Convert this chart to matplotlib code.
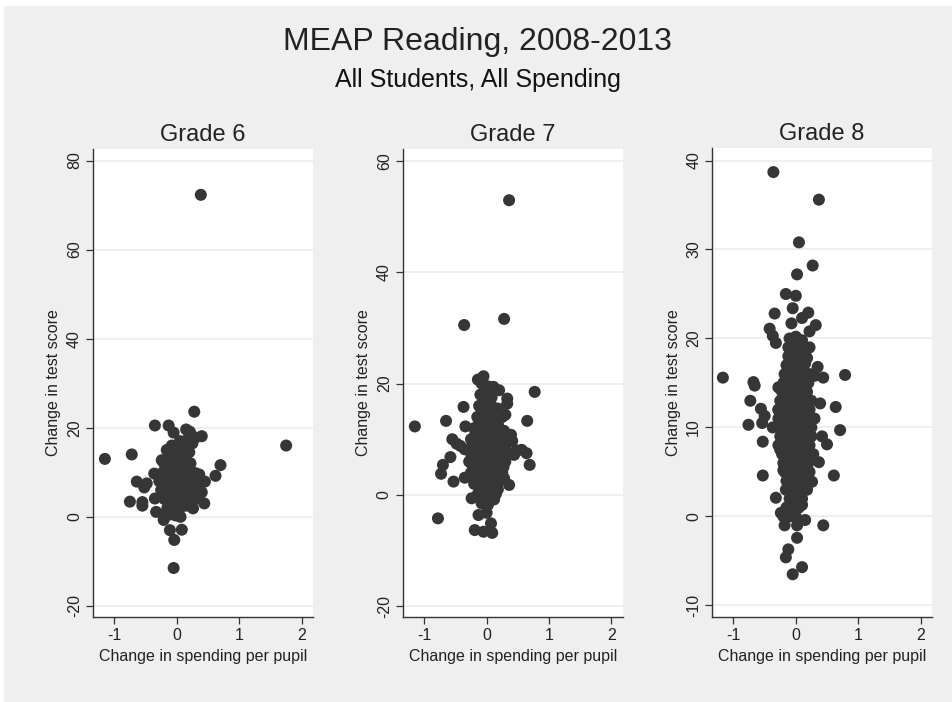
import matplotlib
matplotlib.use("Agg")
import matplotlib.pyplot as plt
from matplotlib.patches import Rectangle

plt.rcParams['font.family'] = ['Liberation Sans', 'DejaVu Sans']

title = "MEAP Reading, 2008-2013"
subtitle = "All Students, All Spending"
panel_titles = ["Grade 6", "Grade 7", "Grade 8"]
x_label = "Change in spending per pupil"
y_label = "Change in test score"
x_ticks = [-1, 0, 1, 2]
y_ticks_g6 = [-20, 0, 20, 40, 60, 80]
y_ticks_g7 = [-20, 0, 20, 40, 60]
y_ticks_g8 = [-10, 0, 10, 20, 30, 40]

# (change in spending per pupil, change in test score)
grade6_points = [
    (0.385, 72.3), (1.75, 16.0), (-1.15, 13.0), (-0.72, 14.0), (0.28, 23.6),
    (-0.35, 20.5), (-0.13, 20.5), (-0.05, 18.9), (0.21, 19.1), (0.40, 18.1),
    (0.70, 11.6), (0.62, 9.2), (-0.64, 7.9), (-0.48, 7.5), (-0.52, 6.6),
    (-0.75, 3.4), (-0.55, 2.5), (-0.55, 3.3), (-0.33, 1.1), (-0.35, 4.1),
    (-0.36, 9.7), (-0.21, -0.7), (-0.11, -3.0), (0.08, -2.9), (-0.04, -5.2),
    (-0.05, -11.5), (0.44, 3.0), (0.40, 5.5), (0.45, 7.9), (0.36, 9.5),
    (0.26, 1.9), (-0.24, 12.7), (-0.16, 15.0),
    (0.05, 17.0), (0.18, 17.5), (0.25, 16.5), (0.15, 19.6), (0.30, 17.8),
    (-0.08, 16.0), (0.02, 15.5), (0.12, 16.0),
    (-0.12, 14.0), (0.00, 14.0), (0.10, 14.0), (0.20, 14.5),
    (-0.20, 12.0), (-0.08, 12.0), (0.04, 12.0), (0.14, 12.5), (0.22, 12.0),
    (-0.22, 10.0), (-0.12, 10.5), (0.00, 10.0), (0.10, 10.0), (0.20, 10.0), (0.30, 9.8),
    (-0.28, 8.0), (-0.18, 8.5), (-0.06, 8.0), (0.04, 8.0), (0.14, 8.0), (0.24, 8.2), (0.34, 8.5),
    (-0.25, 6.0), (-0.14, 6.0), (-0.04, 6.0), (0.06, 6.0), (0.16, 6.0), (0.26, 6.2), (0.36, 6.0),
    (-0.20, 4.0), (-0.10, 4.0), (0.00, 4.0), (0.10, 4.0), (0.20, 4.2), (0.30, 4.0),
    (-0.15, 2.0), (-0.05, 2.0), (0.05, 2.0), (0.15, 2.5),
    (-0.12, 0.5), (-0.02, 0.3), (0.06, 0.0), (-0.18, 0.8),
    (-0.06, 13.0), (0.06, 13.0), (0.16, 11.0), (-0.15, 9.0), (-0.05, 9.0),
    (0.06, 9.0), (0.18, 9.0), (-0.10, 7.0), (0.00, 7.0), (0.10, 7.0),
    (0.22, 7.0), (-0.15, 5.0), (-0.05, 5.0), (0.05, 5.0), (0.15, 5.0),
    (0.25, 5.0), (-0.08, 3.0), (0.02, 3.0), (0.12, 3.0), (-0.02, 11.0),
]

grade7_points = [
    (0.36, 52.9), (0.28, 31.6), (-0.36, 30.5), (-1.15, 12.3), (0.77, 18.5),
    (0.65, 13.3), (0.69, 5.4), (0.64, 7.5), (0.56, 8.1), (-0.78, -4.2),
    (-0.65, 13.3), (-0.37, 15.8), (-0.58, 6.8), (-0.70, 5.4), (-0.73, 3.8),
    (-0.53, 2.4), (-0.55, 10.0), (-0.48, 9.2), (-0.34, 12.3), (-0.05, 21.3),
    (-0.14, 20.7), (0.11, 19.4), (0.20, 18.8), (0.33, 17.3), (0.33, 16.4),
    (0.30, 14.4), (0.39, 10.8), (0.41, 9.7), (0.44, 7.2), (0.36, 1.8),
    (-0.19, -6.3), (-0.05, -6.6), (0.09, -6.8), (0.07, -5.1), (0.00, -3.2),
    (-0.13, -3.6), (-0.24, -0.6), (0.12, -0.8), (-0.35, 3.1),
    (-0.42, 8.8), (-0.35, 8.2), (0.48, 8.0),
    (-0.08, 20.0), (0.02, 19.5),
    (-0.10, 18.0), (0.00, 18.0), (0.08, 17.5),
    (-0.12, 16.0), (-0.02, 16.0), (0.08, 16.0), (0.18, 15.5),
    (-0.15, 14.0), (-0.05, 14.0), (0.05, 14.0), (0.15, 14.0), (0.25, 14.0),
    (-0.20, 12.0), (-0.10, 12.0), (0.00, 12.0), (0.10, 12.0), (0.20, 12.0), (0.28, 11.5),
    (-0.25, 10.0), (-0.15, 10.0), (-0.05, 10.0), (0.05, 10.0), (0.15, 10.0), (0.25, 10.0),
    (-0.28, 8.0), (-0.18, 8.0), (-0.08, 8.0), (0.02, 8.0), (0.12, 8.0), (0.22, 8.0), (0.30, 8.5),
    (-0.28, 6.0), (-0.18, 6.0), (-0.08, 6.0), (0.02, 6.0), (0.12, 6.0), (0.22, 6.0), (0.30, 6.0),
    (-0.25, 4.0), (-0.15, 4.0), (-0.05, 4.0), (0.05, 4.0), (0.15, 4.0), (0.25, 4.0),
    (-0.20, 2.0), (-0.10, 2.0), (0.00, 2.0), (0.10, 2.0), (0.20, 2.5), (0.28, 3.0),
    (-0.15, 0.0), (-0.05, 0.0), (0.05, 0.0), (0.15, 0.2),
    (-0.08, -1.5), (0.02, -1.8),
    (-0.05, 17.0), (0.05, 17.0), (-0.08, 15.0), (0.02, 15.0), (0.12, 15.0),
    (-0.12, 13.0), (-0.02, 13.0), (0.08, 13.0), (0.18, 13.0),
    (-0.18, 11.0), (-0.08, 11.0), (0.02, 11.0), (0.12, 11.0), (0.22, 11.0),
    (-0.22, 9.0), (-0.12, 9.0), (-0.02, 9.0), (0.08, 9.0), (0.18, 9.0), (0.27, 9.0),
    (-0.24, 7.0), (-0.13, 7.0), (-0.03, 7.0), (0.07, 7.0), (0.17, 7.0), (0.27, 7.0),
    (-0.22, 5.0), (-0.12, 5.0), (-0.02, 5.0), (0.08, 5.0), (0.18, 5.0), (0.27, 5.0),
    (-0.17, 3.0), (-0.07, 3.0), (0.03, 3.0), (0.13, 3.0),
    (-0.12, 1.0), (-0.02, 1.0), (0.08, 1.0), (0.18, 1.0),
    (-0.10, -0.8), (0.02, -0.6),
]

grade8_points = [
    (-0.36, 38.7), (0.37, 35.6), (0.05, 30.8), (0.27, 28.2), (0.02, 27.2),
    (-0.16, 25.0), (0.00, 24.8), (-0.05, 23.4), (-0.34, 22.8), (0.20, 22.9),
    (0.10, 22.3), (0.32, 21.5), (0.22, 20.8), (-0.42, 21.1), (-0.37, 20.3),
    (-0.32, 19.5), (-0.07, 21.7), (-1.17, 15.6), (0.79, 15.9), (-0.68, 15.1),
    (-0.66, 14.7), (-0.28, 14.5), (-0.73, 13.0), (-0.56, 12.1), (-0.50, 11.3),
    (-0.76, 10.3), (-0.54, 10.5), (-0.37, 10.0), (-0.53, 8.4), (-0.53, 4.6),
    (-0.32, 2.1), (0.64, 12.3), (0.71, 9.7), (0.50, 8.1), (0.42, 9.0),
    (0.37, 6.1), (0.61, 4.6), (0.39, 12.7), (0.44, 15.6), (0.35, 16.8),
    (0.44, -1.0), (0.15, -0.4), (0.02, -2.4), (-0.12, -3.7), (-0.16, -4.6),
    (0.10, -5.7), (-0.05, -6.5), (-0.24, 0.4), (-0.18, -1.0), (0.02, -1.0),
    (-0.10, 0.4), (0.10, 1.3), (0.26, 3.9), (-0.16, 3.0), (-0.20, 5.2),
    (-0.25, 7.5), (-0.28, 12.0), (0.22, 19.0), (0.15, 18.5), (0.30, 15.8),
    (-0.10, 20.0), (0.00, 20.2), (0.10, 19.8),
    (-0.12, 19.0), (-0.02, 19.0), (0.08, 19.2), (0.18, 18.8),
    (-0.12, 18.0), (-0.02, 18.0), (0.08, 18.0), (0.18, 17.8),
    (-0.15, 17.0), (-0.05, 17.0), (0.05, 17.0), (0.15, 17.2),
    (-0.18, 16.0), (-0.08, 16.0), (0.02, 16.0), (0.12, 16.0), (0.22, 16.0),
    (-0.20, 15.0), (-0.10, 15.0), (0.00, 15.0), (0.10, 15.0), (0.20, 15.0),
    (-0.22, 14.0), (-0.12, 14.0), (-0.02, 14.0), (0.08, 14.0), (0.18, 14.0),
    (-0.25, 13.0), (-0.15, 13.0), (-0.05, 13.0), (0.05, 13.0), (0.15, 13.0), (0.25, 13.0),
    (-0.28, 12.0), (-0.18, 12.0), (-0.08, 12.0), (0.02, 12.0), (0.12, 12.0), (0.22, 12.0),
    (-0.28, 11.0), (-0.18, 11.0), (-0.08, 11.0), (0.02, 11.0), (0.12, 11.0), (0.22, 11.0), (0.30, 11.0),
    (-0.25, 10.0), (-0.15, 10.0), (-0.05, 10.0), (0.05, 10.0), (0.15, 10.0), (0.25, 10.0),
    (-0.25, 9.0), (-0.15, 9.0), (-0.05, 9.0), (0.05, 9.0), (0.15, 9.0), (0.25, 9.0),
    (-0.28, 8.0), (-0.18, 8.0), (-0.08, 8.0), (0.02, 8.0), (0.12, 8.0), (0.22, 8.0),
    (-0.22, 7.0), (-0.12, 7.0), (-0.02, 7.0), (0.08, 7.0), (0.18, 7.0), (0.28, 7.0),
    (-0.20, 6.0), (-0.10, 6.0), (0.00, 6.0), (0.10, 6.0), (0.20, 6.0),
    (-0.18, 5.0), (-0.08, 5.0), (0.02, 5.0), (0.12, 5.0), (0.22, 5.0),
    (-0.15, 4.0), (-0.05, 4.0), (0.05, 4.0), (0.15, 4.0),
    (-0.12, 3.0), (-0.02, 3.0), (0.08, 3.0), (0.18, 3.0),
    (-0.10, 2.0), (0.00, 2.0), (0.10, 2.0),
    (-0.15, 1.0), (-0.05, 1.0), (0.05, 1.0),
    (-0.20, 0.0), (-0.10, 0.0), (0.00, 0.0),
]

panels = [
    (grade6_points, y_ticks_g6, (-22.5, 82.6), [0.0977, 0.1211, 0.2311, 0.6667]),
    (grade7_points, y_ticks_g7, (-21.9, 62.1), [0.4233, 0.1211, 0.2308, 0.6667]),
    (grade8_points, y_ticks_g8, (-11.3, 41.4), [0.7482, 0.1211, 0.2305, 0.6680]),
]

bg = "#efefef"
fig = plt.figure(figsize=(9.52, 7.02), dpi=100, facecolor="white")
fig.patches.append(Rectangle((4 / 952, 0), 1, 1 - 6 / 702, transform=fig.transFigure,
                             facecolor=bg, edgecolor="none", zorder=-10))

fig.text(0.502, 1 - 42 / 702, title, ha="center", va="center", fontsize=23, color="#222222")
fig.text(0.502, 1 - 80 / 702, subtitle, ha="center", va="center", fontsize=18, color="#111111")

for (pts, yt, ylim, rect), ptitle in zip(panels, panel_titles):
    ax = fig.add_axes(rect)
    ax.set_facecolor("white")
    xs = [p[0] for p in pts]
    ys = [p[1] for p in pts]
    ax.scatter(xs, ys, s=75, color="#363636", edgecolors="none", zorder=3)
    ax.set_xlim(-1.34, 2.18)
    ax.set_ylim(*ylim)
    ax.set_xticks(x_ticks)
    ax.set_xticklabels([str(v) for v in x_ticks])
    ax.set_yticks(yt)
    ax.set_yticklabels([str(v) for v in yt], rotation=90, va="center")
    ax.grid(axis="y", color="#ececec", linewidth=1.2, zorder=0)
    ax.set_axisbelow(True)
    for s in ["top", "right"]:
        ax.spines[s].set_visible(False)
    for s in ["left", "bottom"]:
        ax.spines[s].set_color("#333333")
        ax.spines[s].set_linewidth(1.0)
    ax.tick_params(axis="both", direction="out", length=5, width=0.9, color="#333333",
                   labelsize=11.5, labelcolor="#222222", pad=3)
    ax.set_xlabel(x_label, fontsize=11.5, color="#222222", labelpad=4)
    ax.set_ylabel(y_label, fontsize=11.5, color="#222222", labelpad=4)
    ax.set_title(ptitle, fontsize=17, color="#222222", pad=6)

fig.savefig("out.png", dpi=100, facecolor=fig.get_facecolor())
